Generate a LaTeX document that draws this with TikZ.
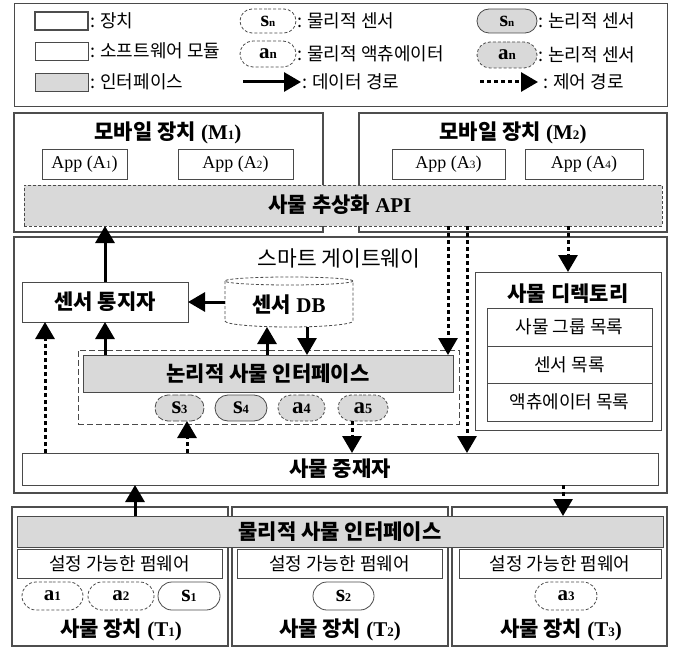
\documentclass[tikz,border=0pt]{standalone}
\usepackage{fontspec}
\setmainfont{Liberation Serif}
\newfontfamily\kr{Noto Sans CJK KR}
\usetikzlibrary{arrows.meta,calc,shapes.misc}
\newcommand\sbs[2][0.62]{\scalebox{#1}{#2}}
\definecolor{linec}{HTML}{4A4A4A}
\definecolor{devc}{HTML}{4D4D4D}
\definecolor{ifcc}{HTML}{D9D9D9}
\tikzset{
  wh/.style 2 args={minimum width=#1pt,minimum height=#2pt},
  every node/.style={inner sep=0pt,outer sep=0pt},
  devbox/.style={draw=devc,line width=2.8pt},
  swbox/.style={draw=linec,line width=0.8pt,fill=white},
  ifbox/.style={draw=linec,line width=0.8pt,fill=ifcc},
  dsh/.style={dash pattern=on 3pt off 2pt},
  pill/.style={rounded rectangle,draw=linec,line width=0.8pt},
  title/.style={font=\fontsize{21}{24}\selectfont\bfseries},
  body/.style={font=\kr\fontsize{18}{21}\selectfont},
  lbl/.style={font=\kr\fontsize{18}{21}\selectfont,anchor=west},
  tag/.style={font=\fontsize{21}{21}\selectfont\bfseries},
  stag/.style={font=\fontsize{24}{24}\selectfont\bfseries},
  data/.style={line width=3pt,-{Triangle[length=17pt,width=19pt]}},
  ctrl/.style={line width=3pt,dash pattern=on 4pt off 3pt,-{Triangle[length=17pt,width=19pt]}},
}
\begin{document}
\begin{tikzpicture}[x=1pt,y=-1pt]
\useasboundingbox (0,0) rectangle (680,650);
% ---------- legend ----------
\node[draw=linec,line width=0.9pt,wh={653}{103}] (lg) at (340.5,54.5) {};
\node[devbox,wh={53}{18}] (lgdev) at (61.5,21) {};
\node[swbox,wh={53}{18}] (lgsw) at (61.5,51) {};
\node[ifbox,wh={53}{18}] (lgif) at (61.5,82) {};
\node[lbl] (lgdevt) at (90,21) {: 장치};
\node[lbl] (lgswt) at (90,51) {: 소프트웨어 모듈};
\node[lbl] (lgift) at (90,82) {: 인터페이스};
\node[pill,dsh,wh={56}{24},font=\fontsize{22}{22}\selectfont\bfseries] (lgps) at (268,21) {s\sbs[0.5]{n}};
\node[pill,dsh,wh={56}{26},tag] (lgpa) at (268,54) {a\sbs{n}};
\coordinate (lgd1) at (243,82);
\coordinate (lgd2) at (301,82);
\draw[data] (lgd1) -- (lgd2);
\node[lbl] (lgpst) at (297,21) {: 물리적 센서};
\node[lbl] (lgpat) at (297,54) {: 물리적 액츄에이터};
\node[lbl] (lgdt) at (302,82) {: 데이터 경로};
\node[pill,fill=ifcc,wh={60}{24},font=\fontsize{22}{22}\selectfont\bfseries] (lgls) at (507,21) {s\sbs[0.5]{n}};
\node[pill,dsh,fill=ifcc,wh={60}{26},tag] (lgla) at (507,55) {a\sbs{n}};
\coordinate (lgc1) at (480,82);
\coordinate (lgc2) at (538,82);
\draw[ctrl] (lgc1) -- (lgc2);
\node[lbl] (lgltt) at (538,21) {: 논리적 센서};
\node[lbl] (lglat) at (538,55) {: 논리적 센서};
\node[lbl] (lgct) at (543,82) {: 제어 경로};
% ---------- mobile devices ----------
\node[devbox,wh={309}{119}] (m1) at (168.5,172.5) {};
\node[devbox,wh={308}{119}] (m2) at (513,172.5) {};
\node[title] (m1t) at (168,133) {{\kr 모바일 장치} (M\sbs{1})};
\node[title] (m2t) at (513,133) {{\kr 모바일 장치} (M\sbs{2})};
\node[swbox,wh={85}{30},font=\fontsize{18}{19}\selectfont] (app1) at (84.5,164) {App (A\sbs{1})};
\node[swbox,wh={115}{30},font=\fontsize{18}{19}\selectfont] (app2) at (235.5,164) {App (A\sbs{2})};
\node[swbox,wh={113}{30},font=\fontsize{18}{19}\selectfont] (app3) at (448.5,164) {App (A\sbs{3})};
\node[swbox,wh={118}{30},font=\fontsize{18}{19}\selectfont] (app4) at (584,164) {App (A\sbs{4})};
\node[ifbox,dsh,wh={638}{41}] (api) at (343,205.5) {};
\node[title] (apit) at (340,205) {{\kr 사물 추상화} API};
% ---------- gateway ----------
\node[devbox,wh={653}{256}] (gw) at (340.5,365) {};
\node[font=\kr\fontsize{21.5}{24}\selectfont] (gwt) at (339,258) {스마트 게이트웨이};
\node[swbox,wh={166}{40},title] (notif) at (105,302) {\kr 센서 통지자};
\node[wh={128}{50}] (db) at (289,302) {};
\draw[linec,line width=0.8pt,dsh] (289,281) ellipse [x radius=64pt,y radius=4pt];
\draw[linec,line width=0.8pt,dsh] (225,281) -- (225,321) arc [start angle=180,end angle=360,x radius=64pt,y radius=6pt] -- (353,281);
\node[title] (dbt) at (289,305) {{\kr 센서} DB};
\node[draw=linec,line width=0.9pt,dash pattern=on 6pt off 3pt,wh={381}{74}] (lreg) at (268.5,387) {};
\node[ifbox,wh={370}{37},title] (lif) at (268,373.5) {\kr 논리적 사물 인터페이스};
\node[pill,fill=ifcc,dash pattern=on 6pt off 2pt,wh={49}{26},font=\fontsize{25}{25}\selectfont\bfseries] (s3) at (179.5,408) {s\sbs[0.5]{3}};
\node[pill,fill=ifcc,wh={52}{26},font=\fontsize{25}{25}\selectfont\bfseries] (s4) at (241,408) {s\sbs[0.5]{4}};
\node[pill,fill=ifcc,dsh,wh={47}{26},font=\fontsize{23}{23}\selectfont\bfseries] (la4) at (301.5,408) {a\sbs{4}};
\node[pill,fill=ifcc,dsh,wh={50}{26},font=\fontsize{23}{23}\selectfont\bfseries] (la5) at (363,408) {a\sbs{5}};
\node[swbox,wh={186}{158}] (dir) at (568,351) {};
\node[title] (dirt) at (568,294) {\kr 사물 디렉토리};
\node[swbox,wh={165}{38},body] (d1) at (569.5,327) {사물 그룹 목록};
\node[swbox,wh={165}{37},body] (d2) at (569.5,364.5) {센서 목록};
\node[swbox,wh={165}{38},body] (d3) at (569.5,402) {액츄에이터 목록};
\node[swbox,wh={636}{32},title] (med) at (340,469) {\kr 사물 중재자};
% ---------- thing devices ----------
\node[devbox,wh={216}{139}] (t1) at (120,576.5) {};
\node[devbox,wh={216}{139}] (t2) at (340,576.5) {};
\node[devbox,wh={215}{139}] (t3) at (559.5,576.5) {};
\node[ifbox,wh={646}{31},title] (pif) at (340,531.5) {\kr 물리적 사물 인터페이스};
\node[swbox,wh={205}{29},body] (f1) at (119.5,563.5) {설정 가능한 펌웨어};
\node[swbox,wh={205}{29},body] (f2) at (339.5,563.5) {설정 가능한 펌웨어};
\node[swbox,wh={202}{29},body] (f3) at (560,563.5) {설정 가능한 펌웨어};
\node[pill,dsh,wh={61}{28},tag] (pa1) at (52.5,596) {a\sbs{1}};
\node[pill,dsh,wh={66}{28},tag] (pa2) at (121,596) {a\sbs{2}};
\node[pill,wh={62}{28},stag] (ps1) at (189,596) {s\sbs[0.5]{1}};
\node[pill,wh={61}{28},stag] (ps2) at (343.5,596) {s\sbs[0.5]{2}};
\node[pill,dsh,wh={62}{28},tag] (pa3) at (566,596) {a\sbs{3}};
\node[title] (t1t) at (121,630) {{\kr 사물 장치} (T\sbs{1})};
\node[title] (t2t) at (340,630) {{\kr 사물 장치} (T\sbs{2})};
\node[title] (t3t) at (561,630) {{\kr 사물 장치} (T\sbs{3})};
% ---------- connectors ----------
\coordinate (xa) at (267,0);
\coordinate (xb) at (307,0);
\coordinate (xc) at (448,0);
\coordinate (xd) at (467,0);
\coordinate (xe) at (45,0);
\coordinate (xf) at (187,0);
\coordinate (xg) at (352,0);
\coordinate (xh) at (135,0);
\coordinate (xi) at (563,0);
\draw[data] (notif.north) -- (notif.north |- api.south);
\draw[data] (db.west) -- (db.west -| notif.east);
\draw[data] (lif.north -| notif.south) -- (notif.south);
\draw[data] (lif.north -| xa) -- (db.south -| xa);
\draw[data] (db.south -| xb) -- (lif.north -| xb);
\draw[ctrl] (api.south -| xc) -- (lif.north -| xc);
\draw[ctrl] (api.south -| xd) -- (med.north -| xd);
\draw[ctrl] (api.south -| dir.north) -- (dir.north);
\draw[ctrl] (med.north -| xe) -- (notif.south -| xe);
\draw[ctrl] (med.north -| xf) -- (s3.south -| xf);
\draw[ctrl] (la5.south -| xg) -- (med.north -| xg);
\draw[data] (pif.north -| xh) -- (med.south -| xh);
\draw[ctrl] (med.south -| xi) -- (pif.north -| xi);
\end{tikzpicture}
\end{document}
